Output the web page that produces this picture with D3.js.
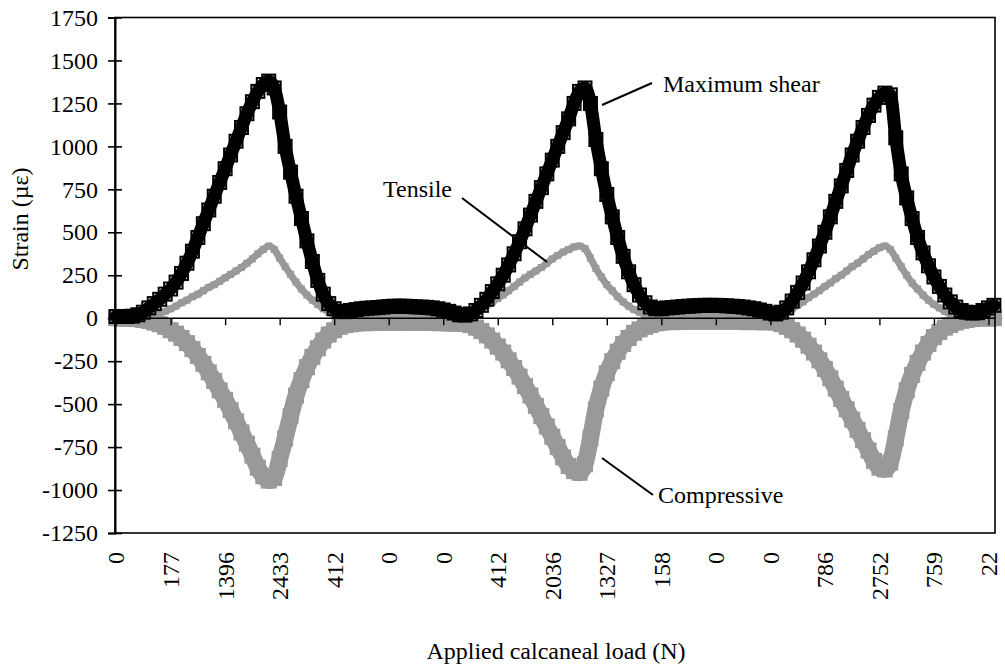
<!DOCTYPE html>
<html><head><meta charset="utf-8">
<script src="https://cdn.jsdelivr.net/npm/d3@7"></script>
<style>body{margin:0;background:#fff}svg{display:block}text{font-family:"Liberation Serif","Times New Roman",serif;fill:#000}</style>
</head><body><svg id="c" width="1005" height="671"></svg>
<script>
// category axis: one category per load sample; a tick label every 50 samples
const sampleStep = 5;            // values below are listed for every 5th sample
const nCategories = 806;
const tickLabels = ["0","177","1396","2433","412","0","0","412","2036","1327","158","0","0","786","2752","759","22"];
const tickEvery = 50;
const yTicks = [1750,1500,1250,1000,750,500,250,0,-250,-500,-750,-1000,-1250];

const maxShear = [10,10,10,12,20,35,60,85,110,140,170,210,260,320,390,470,550,630,710,790,870,950,1030,1110,1190,1260,1320,1360,1380,1340,
1200,1000,850,710,580,450,330,220,140,85,55,40,38,45,50,55,58,60,62,65,68,70,70,70,68,66,65,63,60,55,
48,40,30,20,18,25,45,75,110,155,200,250,310,375,445,520,600,680,760,840,920,1000,1080,1160,1250,1320,1340,1250,1040,870,
720,590,470,360,270,195,135,90,65,55,55,60,62,65,68,70,72,74,75,75,75,74,72,70,68,65,60,55,48,40,
30,25,35,60,100,150,205,270,340,420,500,590,680,770,860,950,1030,1110,1180,1240,1285,1310,1300,1050,840,700,580,470,380,305,
240,185,135,95,65,45,35,30,32,45,60,75];

const tensile = [5,5,5,5,5,5,8,15,25,40,55,70,90,105,125,140,160,180,195,215,235,255,275,295,320,345,375,400,420,400,
350,300,255,210,170,135,105,80,55,35,20,10,5,5,4,4,3,3,3,3,3,3,3,3,3,3,3,3,3,3,
3,3,4,5,10,20,35,55,75,95,115,135,160,185,210,235,255,275,295,320,345,365,385,400,415,420,405,350,290,240,
195,160,125,95,70,50,35,20,10,5,3,3,3,3,3,3,3,3,3,3,3,3,3,3,3,3,3,3,3,3,
3,10,20,35,55,75,95,120,140,160,185,205,230,250,275,300,320,345,370,390,410,420,400,350,300,250,205,170,135,105,
80,60,40,25,15,5,0,0,0,0,0,0];

const compressive = [0,0,0,-2,-5,-10,-15,-25,-35,-50,-70,-90,-115,-145,-180,-220,-265,-315,-365,-420,-475,-535,-600,-665,-730,-800,-870,-920,-945,-930,
-820,-700,-570,-450,-360,-285,-225,-175,-130,-95,-70,-50,-40,-35,-30,-28,-27,-26,-25,-25,-24,-24,-24,-24,-24,-24,-25,-25,-26,-27,
-28,-29,-30,-30,-32,-40,-55,-75,-100,-130,-165,-200,-245,-290,-340,-395,-450,-510,-570,-630,-690,-750,-810,-860,-890,-900,-850,-700,-530,-410,
-320,-250,-195,-150,-115,-85,-65,-50,-40,-30,-25,-22,-20,-20,-18,-18,-18,-18,-18,-18,-18,-18,-18,-18,-18,-20,-20,-20,-22,-22,
-22,-25,-35,-50,-70,-95,-125,-160,-200,-245,-295,-350,-410,-470,-530,-590,-650,-710,-770,-830,-870,-880,-840,-700,-540,-420,-330,-260,-200,-150,
-110,-80,-55,-40,-25,-15,-10,-5,0,0,0,0];

const annotations = [
  {text:"Maximum shear", tx:663, ty:92, x1:602, y1:105, x2:652, y2:83},
  {text:"Tensile", tx:383, ty:197, x1:462, y1:198, x2:547, y2:262},
  {text:"Compressive", tx:658, ty:503, x1:602, y1:458, x2:653, y2:495}
];

const svg = d3.select("#c");
const L=115, R=995, T=17.5, B=533;
const x = d3.scaleLinear().domain([-1, nCategories]).range([L, R]);
const y = d3.scaleLinear().domain([-1250, 1750]).range([B, T]);
const pts = arr => arr.map((v,j)=>[j*sampleStep, v]);
const line = d3.line().x(d=>x(d[0])).y(d=>y(d[1])).curve(d3.curveMonotoneX);

// compressive
svg.append("path").attr("d", line(pts(compressive))).attr("fill","none")
  .attr("stroke","#999").attr("stroke-width",17).attr("stroke-linejoin","round").attr("stroke-linecap","round");
svg.append("g").selectAll("rect").data(pts(compressive)).join("rect")
  .attr("x",d=>x(d[0])-8).attr("y",d=>y(d[1])-8).attr("width",16).attr("height",16)
  .attr("fill","#999");
// tensile
svg.append("path").attr("d", line(pts(tensile))).attr("fill","none")
  .attr("stroke","#999").attr("stroke-width",7).attr("stroke-linejoin","round").attr("stroke-linecap","round");
svg.append("g").selectAll("rect").data(pts(tensile)).join("rect")
  .attr("x",d=>x(d[0])-3.5).attr("y",d=>y(d[1])-3.5).attr("width",7).attr("height",7)
  .attr("fill","#999");
// maximum shear
svg.append("path").attr("d", line(pts(maxShear))).attr("fill","none")
  .attr("stroke","#000").attr("stroke-width",13).attr("stroke-linejoin","round").attr("stroke-linecap","round");
svg.append("g").selectAll("rect").data(pts(maxShear)).join("rect")
  .attr("x",d=>x(d[0])-6.5).attr("y",d=>y(d[1])-6.5).attr("width",13).attr("height",13)
  .attr("fill","none").attr("stroke","#000").attr("stroke-width",2);

// frame
svg.append("rect").attr("x",L).attr("y",T).attr("width",R-L).attr("height",B-T)
  .attr("fill","none").attr("stroke","#000").attr("stroke-width",1.6);

// y axis
const ya = svg.append("g").attr("transform",`translate(${L},0)`)
  .call(d3.axisLeft(y).tickValues(yTicks).tickSize(7).tickFormat(d=>String(d)));
ya.attr("font-family",null).attr("font-size",null);
ya.select(".domain").attr("stroke","#000").attr("stroke-width",2);
ya.selectAll(".tick line").attr("x1",7).attr("x2",-7).attr("stroke","#000").attr("stroke-width",1.6);
ya.selectAll(".tick text").attr("x",-17).attr("font-size",24).attr("fill","#000");

// x axis at zero
const tickIdx = tickLabels.map((_,k)=>k*tickEvery);
const xa = svg.append("g").attr("transform",`translate(0,${y(0)})`)
  .call(d3.axisBottom(x).tickValues(tickIdx).tickSize(7).tickFormat(""));
xa.select(".domain").attr("d",`M${L},0H${R}`).attr("stroke","#000").attr("stroke-width",1.4);
xa.selectAll(".tick line").attr("stroke","#000").attr("stroke-width",1.4);

svg.append("g").selectAll("text").data(tickLabels).join("text")
  .attr("transform",(d,k)=>`translate(${x(tickIdx[k])},552) rotate(-90)`)
  .attr("text-anchor","end").attr("dy","0.35em").attr("font-size",24).text(d=>d);

// titles
svg.append("text").attr("transform","translate(28,219) rotate(-90)").attr("text-anchor","middle")
  .attr("font-size",24).text("Strain (µε)");
svg.append("text").attr("x",556).attr("y",659).attr("text-anchor","middle")
  .attr("font-size",24).text("Applied calcaneal load (N)");

// annotations
annotations.forEach(a=>{
  svg.append("line").attr("x1",a.x1).attr("y1",a.y1).attr("x2",a.x2).attr("y2",a.y2)
    .attr("stroke","#000").attr("stroke-width",2);
  svg.append("text").attr("x",a.tx).attr("y",a.ty).attr("font-size",24).text(a.text);
});
</script></body></html>
